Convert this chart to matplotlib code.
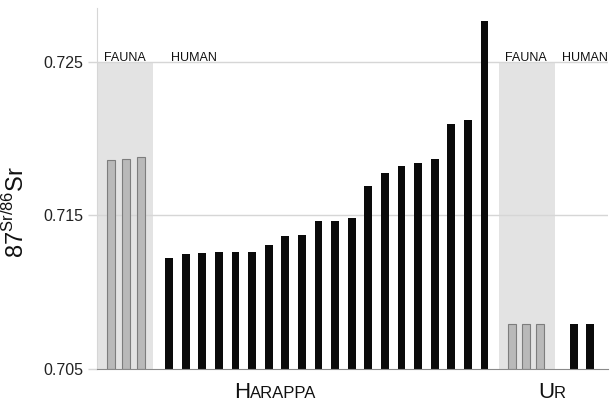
import numpy as np
import matplotlib
matplotlib.use('Agg')
import matplotlib.pyplot as plt

plt.rcParams['font.family'] = ['Liberation Sans', 'DejaVu Sans']
plt.rcParams['mathtext.fontset'] = 'custom'
plt.rcParams['mathtext.rm'] = 'Liberation Sans'

# 87Sr/86Sr values
harappa_fauna = [0.71862, 0.71868, 0.71881]
harappa_human = [0.71225, 0.71249, 0.71254, 0.71260, 0.71262, 0.71262,
                 0.71310, 0.71368, 0.71373, 0.71466, 0.71466, 0.71486,
                 0.71694, 0.71779, 0.71822, 0.71844, 0.71870, 0.72098,
                 0.72124, 0.72767]
ur_fauna = [0.70791, 0.70791, 0.70791]
ur_human = [0.70791, 0.70791]
yticks = [0.705, 0.715, 0.725]
base = 0.705

fig = plt.figure(figsize=(6.10, 4.03), dpi=100)
# x axis runs in pixel-like units across the plot
ax = fig.add_axes([97 / 610, 34 / 403, 511 / 610, 361 / 403])
ax.set_xlim(97, 608)
ax.set_ylim(base, 0.7285)

# layout of the groups
hf_x = 111 + 15 * np.arange(len(harappa_fauna))
hh_x = 169 + 16.6 * np.arange(len(harappa_human))
uf_x = 512 + 14 * np.arange(len(ur_fauna))
uh_x = 574 + 16 * np.arange(len(ur_human))

shade = '#e3e3e3'
ax.fill_between([97, 153], base, 0.725, color=shade, lw=0, zorder=0)
ax.fill_between([499, 555], base, 0.725, color=shade, lw=0, zorder=0)

for y in yticks[1:]:
    ax.axhline(y, color='#d6d6d6', lw=1, zorder=0.5)

w = 7.8
fauna_kw = dict(color='#b9b9b9', edgecolor='#7d7d7d', linewidth=0.8, zorder=2)
human_kw = dict(color='#0a0a0a', zorder=2)
ax.bar(hf_x, np.array(harappa_fauna) - base, w, bottom=base, **fauna_kw)
ax.bar(hh_x, np.array(harappa_human) - base, w, bottom=base, **human_kw)
ax.bar(uf_x, np.array(ur_fauna) - base, w, bottom=base, **fauna_kw)
ax.bar(uh_x, np.array(ur_human) - base, w, bottom=base, **human_kw)

for s in ['top', 'right']:
    ax.spines[s].set_visible(False)
ax.spines['left'].set_color('#d6d6d6')
ax.spines['bottom'].set_color('#8a8a8a')
ax.spines['bottom'].set_zorder(3)

ax.set_xticks([])
ax.set_yticks(yticks)
ax.set_yticklabels(['%.3f' % t for t in yticks])
ax.tick_params(axis='y', length=6.5, width=1, color='#d6d6d6', pad=3.5,
               labelsize=11.5, labelcolor='#222222')

lab = dict(fontsize=9, ha='center', va='baseline', color='#111111')
ax.text(125, 0.72507, 'FAUNA', **lab)
ax.text(194, 0.72507, 'HUMAN', **lab)
ax.text(526, 0.72507, 'FAUNA', **lab)
ax.text(585, 0.72507, 'HUMAN', **lab)

# small caps site names
by = 1 - 398 / 403
fig.text(250 / 610, by, 'H', fontsize=16, ha='right', va='baseline', color='#111111')
fig.text(250 / 610, by, 'ARAPPA', fontsize=12, ha='left', va='baseline', color='#111111')
fig.text(554 / 610, by, 'U', fontsize=16, ha='right', va='baseline', color='#111111')
fig.text(554 / 610, by, 'R', fontsize=12, ha='left', va='baseline', color='#111111')

fig.text(16 / 610, 1 - 212 / 403, r'87$^{\mathrm{Sr}/86}$Sr', rotation=90,
         fontsize=17, ha='center', va='center', color='#111111')

fig.savefig('out.png', dpi=100)
